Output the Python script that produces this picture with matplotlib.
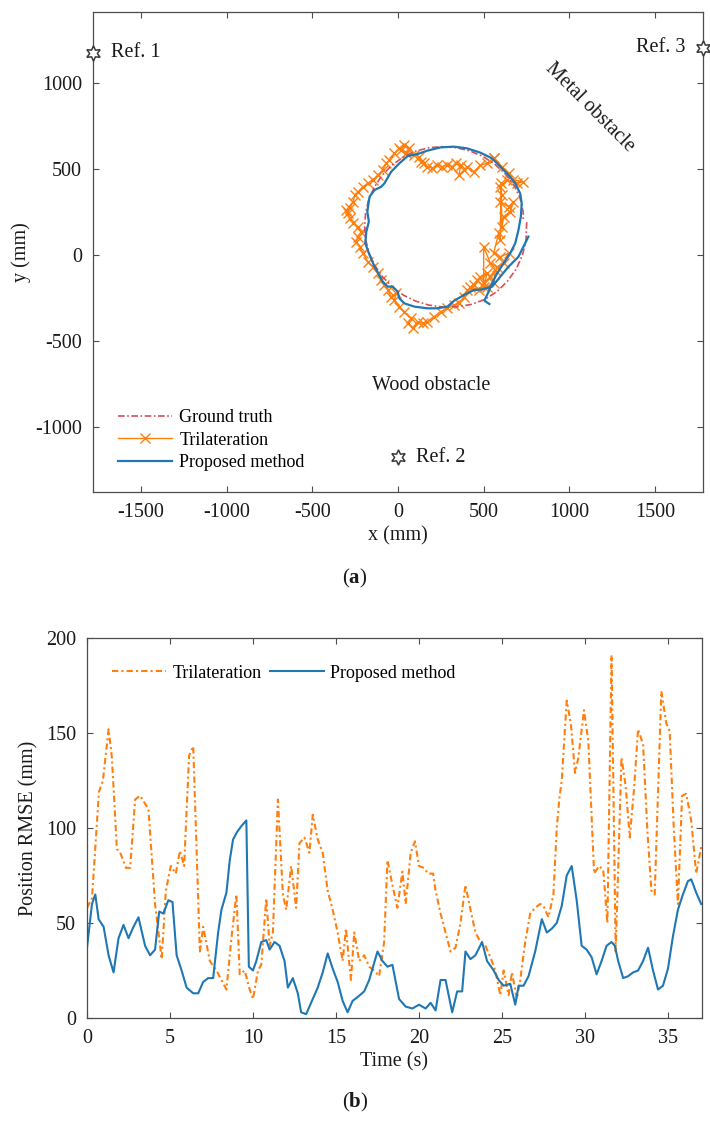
import matplotlib
matplotlib.use("Agg")
import matplotlib.pyplot as plt
from matplotlib.lines import Line2D

plt.rcParams['font.family'] = ['Liberation Serif', 'DejaVu Serif']
plt.rcParams['mathtext.fontset'] = 'custom'
plt.rcParams['mathtext.rm'] = 'Liberation Serif'
plt.rcParams['mathtext.bf'] = 'Liberation Serif:bold'
plt.rcParams['axes.unicode_minus'] = False

# ---------------- data: (a) trajectories (mm) ----------------
gt_x = [751, 747, 725, 689, 638, 577, 505, 425, 342, 260, 179, 102, 31, -34, -89, -134, -168,
        -188, -195, -189, -171, -138, -94, -38, 28, 101, 179, 260, 341, 420, 496, 565, 626,
        677, 713, 731, 730]
gt_y = [191, 79, -4, -83, -153, -213, -259, -288, -301, -302, -291, -268, -233, -185, -128, -63,
        9, 86, 165, 244, 322, 395, 462, 520, 568, 603, 624, 630, 624, 605, 573, 528, 472,
        406, 330, 248, 206]

tri_x = [558, 607, 645, 674, 732, 694, 636, 597, 607, 597, 645, 674, 655, 616, 607, 601, 597,
         587, 558, 597, 645, 616, 578, 539, 500, 500, 520, 481, 462, 443, 423, 471, 500, 539,
         568, 558, 520, 404, 385, 356, 327, 288, 249, 211, 172, 143, 114, 85, 56, 76, 37, 8,
         -21, -11, -40, -60, -79, -98, -118, -147, -176, -205, -224, -243, -233, -214, -233,
         -262, -282, -291, -282, -301, -262, -253, -233, -205, -176, -147, -118, -89, -69, -50,
         -21, 8, 37, 66, 47, 18, 95, 124, 133, 153, 172, 201, 230, 259, 288, 317, 336, 365,
         356, 385, 404, 443, 481, 520, 558]
tri_y = [562, 514, 475, 436, 426, 417, 436, 397, 349, 310, 281, 310, 252, 223, 165, 417, 87,
         126, 10, -10, 10, -48, -68, -48, 48, -184, -107, -126, -145, -175, -184, -204, -165,
         -126, -87, -165, -184, -204, -242, -281, -291, -310, -329, -359, -388, -397, -388,
         -426, -397, -368, -329, -300, -262, -223, -242, -204, -175, -145, -107, -68, -39, 10,
         48, 77, 107, 136, 165, 184, 213, 242, 271, 262, 310, 349, 368, 397, 417, 436, 465,
         494, 533, 552, 591, 620, 640, 620, 591, 610, 581, 572, 543, 533, 514, 504, 523, 514,
         523, 514, 533, 523, 465, 494, 514, 484, 523, 533, 562]

pm_x = [761, 703, 645, 597, 549, 491, 442, 384, 327, 288, 230, 172, 95, 37, 8, -2, -31, -60,
        -89, -137, -166, -191, -185, -170, -179, -166, -137, -98, -79, -40, 8, 56, 114, 172,
        249, 327, 404, 481, 549, 597, 645, 684, 713, 722, 717, 703, 684, 655, 616, 578, 549,
        529, 504, 533]
pm_y = [107, -10, -68, -126, -184, -200, -204, -233, -266, -300, -310, -310, -300, -281, -252,
        -213, -184, -184, -155, -68, 0, 68, 136, 194, 252, 339, 378, 397, 417, 484, 533, 575,
        587, 607, 626, 630, 620, 595, 562, 514, 465, 417, 358, 300, 223, 145, 68, 10, -48,
        -107, -165, -213, -265, -285]

ref_names = ["Ref. 1", "Ref. 2", "Ref. 3"]
ref_x = [-1780, 0, 1780]
ref_y = [1175, -1175, 1204]

# ---------------- data: (b) position RMSE over time ----------------
t_tri = [0.0, 0.3, 0.72, 0.96, 1.3, 1.5, 1.8, 2.0, 2.35, 2.6, 2.9, 3.2, 3.7, 4.1, 4.5, 4.75,
         5.05, 5.35, 5.6, 5.85, 6.15, 6.4, 6.8, 7.0, 7.4, 7.8, 8.1, 8.4, 8.7, 9.0, 9.2, 9.5,
         9.8, 10.0, 10.3, 10.5, 10.8, 11.0, 11.2, 11.5, 11.8, 12.0, 12.3, 12.6, 12.8, 13.1,
         13.4, 13.6, 13.9, 14.2, 14.5, 14.8, 15.1, 15.4, 15.6, 15.9, 16.1, 16.4, 16.7, 17.0,
         17.3, 17.6, 17.9, 18.1, 18.4, 18.7, 19.0, 19.2, 19.5, 19.76, 20.0, 20.3, 20.55,
         20.85, 21.0, 21.3, 21.6, 21.9, 22.2, 22.5, 22.8, 23.1, 23.4, 23.7, 24.0, 24.3, 24.6,
         24.9, 25.1, 25.4, 25.6, 25.9, 26.1, 26.4, 26.7, 27.0, 27.3, 27.5, 27.8, 28.1, 28.3,
         28.45, 28.6, 28.9, 29.15, 29.4, 29.6, 29.94, 30.2, 30.55, 30.85, 31.1, 31.35, 31.6,
         31.85, 32.2, 32.45, 32.7, 32.95, 33.2, 33.5, 33.75, 34.0, 34.2, 34.6, 34.9, 35.1,
         35.35, 35.6, 35.85, 36.1, 36.4, 36.7, 37.0]
rmse_tri = [58, 63, 119, 125, 152, 137, 89, 87, 79, 79, 115, 117, 110, 60, 31, 67, 80, 76, 88,
            80, 138, 143, 35, 48, 30, 25, 20, 15, 42, 65, 23, 25, 15, 10, 25, 28, 63, 38, 45,
            115, 65, 57, 80, 58, 92, 95, 87, 107, 94, 87, 67, 57, 45, 30, 47, 20, 45, 30, 33,
            27, 25, 22, 40, 83, 70, 58, 77, 60, 87, 93, 80, 79, 76, 76, 67, 55, 45, 35, 37, 50,
            70, 57, 45, 40, 38, 32, 25, 12, 25, 12, 24, 10, 20, 40, 55, 58, 60, 59, 53, 65,
            100, 115, 125, 167, 155, 129, 137, 162, 146, 76, 80, 78, 50, 191, 35, 137, 122,
            95, 120, 152, 144, 100, 67, 65, 172, 155, 151, 100, 60, 117, 118, 104, 76, 90]

t_pm = [0.0, 0.3, 0.5, 0.7, 1.0, 1.3, 1.6, 1.9, 2.2, 2.5, 2.8, 3.1, 3.5, 3.8, 4.1, 4.35, 4.6,
        4.9, 5.15, 5.4, 5.7, 6.0, 6.4, 6.7, 7.0, 7.3, 7.6, 7.9, 8.1, 8.4, 8.6, 8.8, 9.05, 9.3,
        9.6, 9.75, 10.0, 10.2, 10.5, 10.8, 11.0, 11.3, 11.6, 11.9, 12.1, 12.4, 12.7, 12.9,
        13.2, 13.5, 13.9, 14.2, 14.5, 14.8, 15.1, 15.4, 15.7, 16.0, 16.3, 16.7, 17.0, 17.5,
        17.8, 18.1, 18.4, 18.8, 19.2, 19.6, 20.0, 20.4, 20.7, 21.0, 21.3, 21.6, 22.0, 22.3,
        22.6, 22.8, 23.1, 23.4, 23.8, 24.1, 24.5, 24.8, 25.1, 25.5, 25.8, 26.0, 26.3, 26.6,
        27.0, 27.4, 27.7, 28.0, 28.3, 28.6, 28.9, 29.2, 29.5, 29.8, 30.1, 30.4, 30.7, 31.0,
        31.3, 31.6, 31.8, 32.0, 32.3, 32.6, 32.9, 33.2, 33.5, 33.8, 34.1, 34.4, 34.7, 35.0,
        35.3, 35.6, 35.9, 36.2, 36.4, 36.7, 37.0]
rmse_pm = [37, 60, 65, 52, 48, 33, 24, 42, 49, 42, 48, 53, 38, 33, 36, 56, 55, 62, 61, 33, 25,
           16, 13, 13, 19, 21, 21, 45, 57, 66, 83, 94, 98, 101, 104, 27, 25, 30, 40, 41, 36,
           40, 38, 30, 16, 21, 13, 3, 2, 8, 16, 24, 34, 26, 19, 9, 3, 9, 11, 14, 20, 35, 30,
           27, 28, 10, 6, 5, 7, 5, 8, 4, 20, 20, 3, 14, 14, 35, 31, 33, 40, 30, 25, 20, 17, 18,
           7, 17, 17, 22, 35, 52, 45, 47, 50, 59, 75, 80, 62, 38, 36, 32, 23, 30, 38, 40, 38,
           30, 21, 22, 24, 25, 30, 37, 25, 15, 17, 26, 43, 57, 65, 72, 73, 66, 60]

xticks_a = [-1500, -1000, -500, 0, 500, 1000, 1500]
yticks_a = [-1000, -500, 0, 500, 1000]
xticks_b = [0, 5, 10, 15, 20, 25, 30, 35]
yticks_b = [0, 50, 100, 150, 200]

# ---------------- styling ----------------
C_RED = '#d6505a'
C_ORANGE = '#ff7f0e'
C_BLUE = '#1f77b4'
C_TEXT = '#1a1a1a'
C_AX = '#4d4d4d'
FS = 14.5

W, H = 710, 1122
fig = plt.figure(figsize=(W / 100, H / 100), dpi=100)


def frac(l, t, r, b):
    return [l / W, 1 - b / H, (r - l) / W, (b - t) / H]


def style_axes(ax):
    for s in ax.spines.values():
        s.set_color(C_AX)
        s.set_linewidth(0.9)
    ax.tick_params(direction='in', top=True, right=True, length=4.5, width=0.8,
                   color=C_AX, labelsize=FS, labelcolor=C_TEXT, pad=8)


# ---------- (a) ----------
ax1 = fig.add_axes(frac(93, 12, 703, 492))
ax1.plot(tri_x, tri_y, color=C_ORANGE, lw=1.0, marker='x', ms=7, mew=1.0, zorder=2)
ax1.plot(gt_x, gt_y, color=C_RED, lw=1.2, linestyle=(0, (4, 1.5, 1, 1.5)), zorder=3)
ax1.plot(pm_x, pm_y, color=C_BLUE, lw=1.6, zorder=4)
ax1.plot(ref_x, ref_y, linestyle='none', marker=(6, 1, 0), ms=11, mfc='white',
         mec='#3a3a3a', mew=1.1, clip_on=False, zorder=5)
ax1.text(ref_x[0] + 104, ref_y[0], ref_names[0], fontsize=FS, color=C_TEXT,
         ha='left', va='center')
ax1.text(ref_x[1] + 104, ref_y[1], ref_names[1], fontsize=FS, color=C_TEXT,
         ha='left', va='center')
ax1.text(ref_x[2] - 104, ref_y[2], ref_names[2], fontsize=FS, color=C_TEXT,
         ha='right', va='center')
ax1.text(1117, 860, "Metal obstacle", fontsize=FS, color=C_TEXT, rotation=-45,
         rotation_mode='anchor', ha='center', va='center')
ax1.text(195, -756, "Wood obstacle", fontsize=FS, color=C_TEXT, ha='center', va='center')
ax1.set_xlim(-1780, 1780)
ax1.set_ylim(-1378, 1413)
ax1.set_xticks(xticks_a)
ax1.set_yticks(yticks_a)
style_axes(ax1)
ax1.set_xlabel("x (mm)", fontsize=FS, color=C_TEXT, labelpad=3)
ax1.set_ylabel("y (mm)", fontsize=FS, color=C_TEXT, labelpad=3)

h_gt = Line2D([], [], color=C_RED, lw=1.2, linestyle=(0, (4, 1.5, 1, 1.5)))
h_tri = Line2D([], [], color=C_ORANGE, lw=1.0, marker='x', ms=7, mew=1.0)
h_pm = Line2D([], [], color=C_BLUE, lw=1.6)
ax1.legend([h_gt, h_tri, h_pm], ["Ground truth", "Trilateration", "Proposed method"],
           loc='upper left', bbox_to_anchor=(0.041, 0.173), frameon=False, fontsize=13,
           handlelength=3.0, handletextpad=0.4, labelspacing=0.31, borderpad=0,
           borderaxespad=0)

# ---------- (b) ----------
ax2 = fig.add_axes(frac(87, 638, 702, 1018))
ax2.plot(t_tri, rmse_tri, color=C_ORANGE, lw=1.5, linestyle=(0, (3, 1.5, 1, 1.5)),
         label="Trilateration")
ax2.plot(t_pm, rmse_pm, color=C_BLUE, lw=1.5, label="Proposed method")
ax2.set_xlim(0, 37.05)
ax2.set_ylim(0, 200)
ax2.set_xticks(xticks_b)
ax2.set_yticks(yticks_b)
style_axes(ax2)
ax2.set_xlabel("Time (s)", fontsize=FS, color=C_TEXT, labelpad=3)
ax2.set_ylabel("Position RMSE (mm)", fontsize=FS, color=C_TEXT, labelpad=5)
ax2.legend(loc='upper left', bbox_to_anchor=(0.041, 0.93), frameon=False, fontsize=13,
           ncol=2, handlelength=3.0, handletextpad=0.35, columnspacing=0.45, borderpad=0,
           borderaxespad=0)

fig.text(355 / W, 1 - 578 / H, r"$(\mathbf{a})$", fontsize=15, ha='center', va='center',
         color=C_TEXT)
fig.text(355 / W, 1 - 1102 / H, r"$(\mathbf{b})$", fontsize=15, ha='center', va='center',
         color=C_TEXT)

fig.savefig("out.png", dpi=100)
